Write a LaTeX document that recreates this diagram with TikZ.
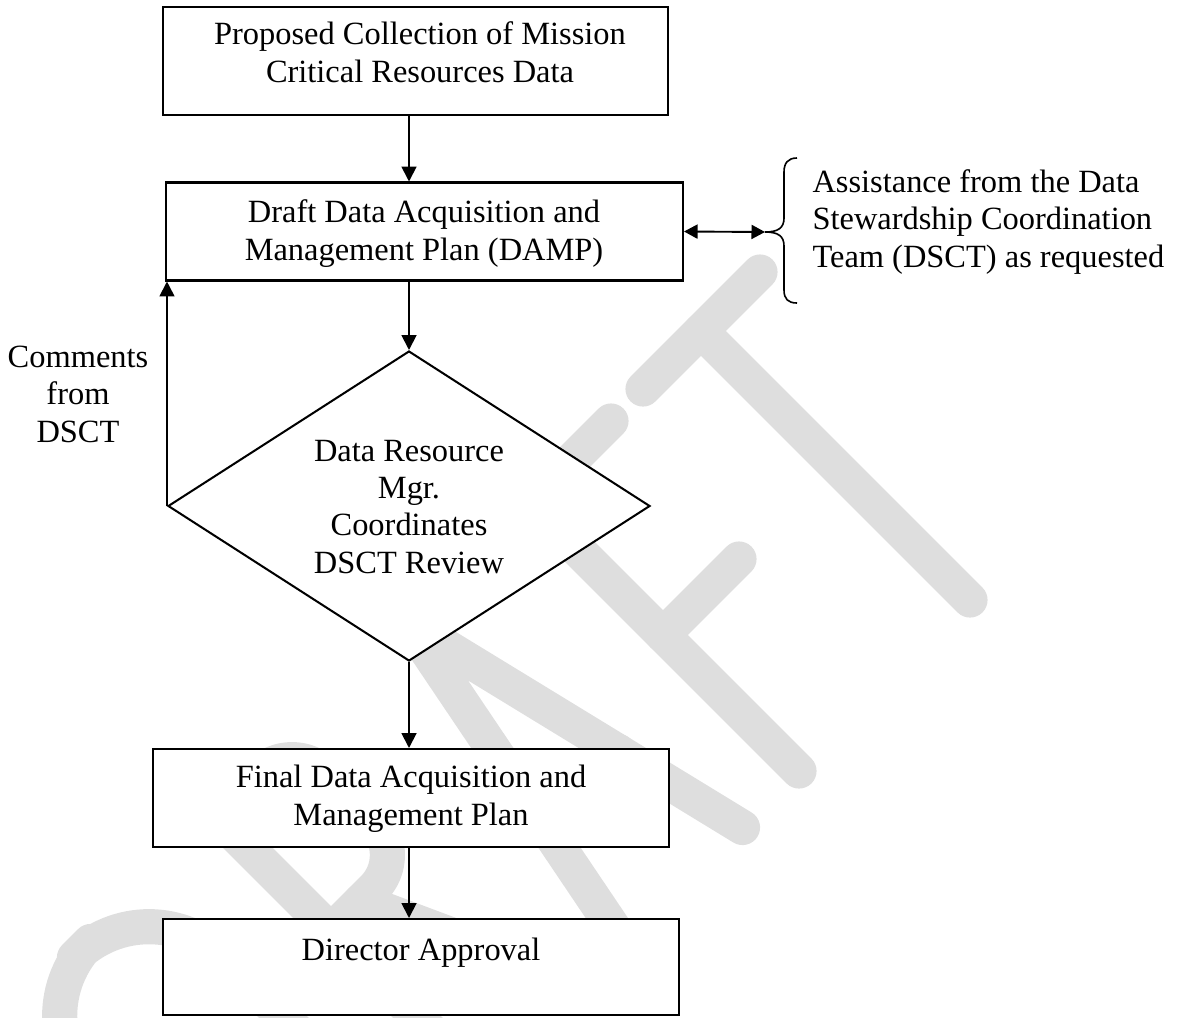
\documentclass[tikz,border=0pt]{standalone}
\usepackage{fontspec}
\setmainfont{Liberation Serif}
\usetikzlibrary{shapes.geometric,arrows.meta}
\newlength\upx
\setlength\upx{0.37pt}
\begin{document}
\begin{tikzpicture}[x=0.37pt,y=-0.37pt]
\tikzset{
 box/.style={draw,line width=0.75pt,fill=white,inner sep=0pt},
 txt/.style={font=\fontsize{12}{13.8}\selectfont,align=center,inner sep=0pt,anchor=base},
 arr/.style={line width=0.7pt,-{Triangle[length=5.5pt,width=5.5pt]}},
 dblarr/.style={line width=0.7pt,{Triangle[length=5pt,width=5.2pt]}-{Triangle[length=5pt,width=5.2pt]}},
 wm/.style={line width=13pt,black!13,line cap=round,line join=round}
}
\useasboundingbox (0,0) rectangle (1179,1017);
% watermark DRAFT
\begin{scope}
\clip (0,0) rectangle (1179,1017);
\begin{scope}[x={(0.185pt,0.185pt)},y={(0.185pt,-0.185pt)}]
 % D
 \draw[wm,rounded corners=39pt] (-1000,1570) -- (-1000,1032) -- (-734,1032) -- (-734,1570) -- cycle;
 % R
 \draw[wm] (-600,1570) -- (-600,1032);
 \draw[wm,rounded corners=17.5pt] (-600,1032) -- (-448,1032) -- (-448,1262) -- (-600,1262);
 \draw[wm] (-540,1262) -- (-400,1570);
 % A
 \draw[wm] (-320,1570) -- (-215,1032) -- (-85,1570);
 \draw[wm] (-282,1370) -- (-133,1370);
 % F
 \draw[wm] (28,1570) -- (28,1032) -- (190,1032);
 \draw[wm] (28,1298) -- (180,1298);
 % T
 \draw[wm] (254,1032) -- (488,1032);
 \draw[wm] (370,1032) -- (370,1570);
\end{scope}
\end{scope}
% shapes
\node[box,minimum width=505\upx,minimum height=108\upx] (b1) at (415.5,61) {};
\node[box,minimum width=517\upx,minimum height=98\upx] (b2) at (424.5,231.5) {};
\node[draw,line width=0.75pt,fill=white,diamond,inner sep=0pt,minimum width=482\upx,minimum height=310\upx] (dia) at (409,506) {};
\node[box,minimum width=516\upx,minimum height=98\upx] (b4) at (411,798) {};
\node[box,minimum width=516\upx,minimum height=96\upx] (b5) at (421,967) {};
% texts (anchor = baseline of last line)
\node[txt] (t1) at (420,82) {Proposed Collection of Mission\\Critical Resources Data};
\node[txt] (t2) at (424,260) {Draft Data Acquisition and\\Management Plan (DAMP)};
\node[txt] (t3) at (409,573) {Data Resource\\Mgr.\\Coordinates\\DSCT Review};
\node[txt] (t4) at (411,825) {Final Data Acquisition and\\Management Plan};
\node[txt] (t5) at (421,960) {Director Approval};
\node[txt] (tc) at (78,442) {Comments\\from\\DSCT};
\node[txt,align=left,anchor=base west] (ta) at (812,267) {Assistance from the Data\\Stewardship Coordination\\Team (DSCT) as requested};
% connectors
\draw[arr] (b1.south -| dia.north) -- (b2.north -| dia.north);
\draw[arr] (b2.south -| dia.north) -- (dia.north);
\draw[arr] (dia.south) -- (b4.north -| dia.south);
\draw[arr] (b4.south -| dia.south) -- (b5.north -| dia.south);
\draw[arr] (dia.west) -- (dia.west |- b2.south);
\coordinate (bt) at (765,232);
\draw[dblarr] (b2.east) -- (bt);
% brace
\draw[line width=0.6pt] (797,158) .. controls (788,158) and (784,163) .. (784,172) -- (784,218)
  .. controls (784,228) and (778,232) .. (bt)
  .. controls (778,232) and (784,236) .. (784,246) -- (784,290)
  .. controls (784,299) and (788,303) .. (797,303);
\end{tikzpicture}
\end{document}
